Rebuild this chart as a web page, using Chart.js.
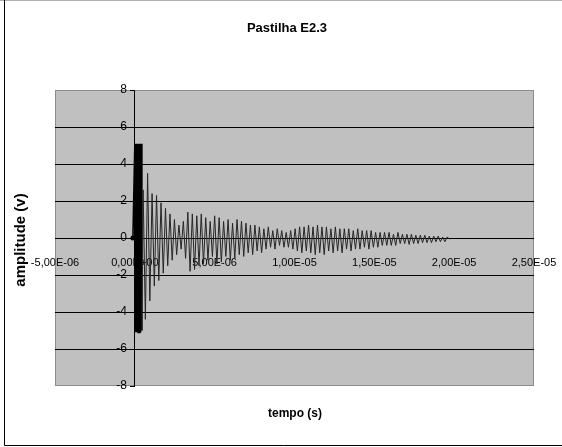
<!DOCTYPE html>
<html>
<head>
<meta charset="utf-8">
<script src="https://cdn.jsdelivr.net/npm/chart.js@4/dist/chart.umd.min.js"></script>
<style>
  html, body { margin: 0; padding: 0; background: #fff; }
  #grafico { display: block; }
</style>
</head>
<body>
<canvas id="grafico" width="562" height="447"></canvas>
<script>
// tempo em microssegundos, amplitude em volts
const tempoUs = [
  -0.12, 0.00, 0.04, 0.08, 0.12, 0.16, 0.20, 0.24, 0.28, 0.32, 0.36, 0.40, 0.44,
  0.52, 0.66, 0.80, 0.94, 1.08, 1.22, 1.36, 1.50, 1.64, 1.78,
  1.92, 2.06, 2.20, 2.34, 2.48, 2.62, 2.76, 2.90, 3.04, 3.18,
  3.32, 3.46, 3.60, 3.74, 3.88, 4.02, 4.16, 4.30, 4.44, 4.58,
  4.72, 4.86, 5.00, 5.14, 5.28, 5.42, 5.56, 5.70, 5.84, 5.98,
  6.12, 6.26, 6.40, 6.54, 6.68, 6.82, 6.96, 7.10, 7.24, 7.38,
  7.52, 7.66, 7.80, 7.94, 8.08, 8.22, 8.36, 8.50, 8.64, 8.78,
  8.92, 9.06, 9.20, 9.34, 9.48, 9.62, 9.76, 9.90, 10.04, 10.18,
  10.32, 10.46, 10.60, 10.74, 10.88, 11.02, 11.16, 11.30, 11.44, 11.58,
  11.72, 11.86, 12.00, 12.14, 12.28, 12.42, 12.56, 12.70, 12.84, 12.98,
  13.12, 13.26, 13.40, 13.54, 13.68, 13.82, 13.96, 14.10, 14.24, 14.38,
  14.52, 14.66, 14.80, 14.94, 15.08, 15.22, 15.36, 15.50, 15.64, 15.78,
  15.92, 16.06, 16.20, 16.34, 16.48, 16.62, 16.76, 16.90, 17.04, 17.18,
  17.32, 17.46, 17.60, 17.74, 17.88, 18.02, 18.16, 18.30, 18.44, 18.58,
  18.72, 18.86, 19.00, 19.14, 19.28, 19.42, 19.56, 19.70
];
const amplitudeV = [
  0, 5.1, -5.1, 5.1, -5.1, 5.1, -5.1, 5.1, -5.1, 5.1, -5.1, 5.1, -5.0,
  2.6, -4.4, 3.5, -3.4, 2.4, -2.6, 2.3, -2.3, 1.9, -1.9,
  1.6, -1.5, 1.3, -1.2, 1.0, -0.9, 0.7, -0.6, 0.9, -1.1,
  1.4, -1.8, 1.3, -1.7, 1.2, -1.5, 1.3, -1.4, 1.1, -1.2,
  0.9, -1.0, 1.2, -1.4, 1.1, -1.3, 0.9, -1.0, 1.0, -1.2,
  0.8, -1.1, 1.0, -0.9, 0.9, -1.0, 0.8, -0.8, 0.7, -0.9,
  0.7, -0.7, 0.6, -0.8, 0.5, -0.6, 0.6, -0.5, 0.4, -0.6,
  0.5, -0.4, 0.4, -0.5, 0.3, -0.5, 0.4, -0.6, 0.5, -0.7,
  0.6, -0.8, 0.6, -0.7, 0.7, -0.8, 0.6, -0.9, 0.7, -0.8,
  0.6, -0.9, 0.6, -0.7, 0.5, -0.8, 0.6, -0.7, 0.5, -0.8,
  0.5, -0.6, 0.5, -0.7, 0.4, -0.6, 0.5, -0.6, 0.4, -0.5,
  0.4, -0.6, 0.4, -0.5, 0.3, -0.5, 0.3, -0.4, 0.3, -0.4,
  0.3, -0.4, 0.2, -0.4, 0.3, -0.3, 0.2, -0.3, 0.2, -0.35,
  0.2, -0.3, 0.15, -0.3, 0.15, -0.25, 0.15, -0.25, 0.1, -0.25,
  0.1, -0.2, 0.1, -0.2, 0.05, -0.2, 0.05, -0.05
];

const xTicks = [-5e-6, 0, 5e-6, 1e-5, 1.5e-5, 2e-5, 2.5e-5];
const xTickLabels = ['-5,00E-06', '0,00E+00', '5,00E-06', '1,00E-05', '1,50E-05', '2,00E-05', '2,50E-05'];
const yTicks = [-8, -6, -4, -2, 0, 2, 4, 6, 8];

const fonteEixo = "'Liberation Sans', Arial, sans-serif";

// fundo cinza da área de plotagem + moldura externa
const fundo = {
  id: 'fundo',
  beforeDraw: (chart) => {
    const { ctx, chartArea: { left, top, width, height } } = chart;
    ctx.save();
    ctx.fillStyle = '#fff';
    ctx.fillRect(0, 0, chart.width, chart.height);
    ctx.fillStyle = '#c0c0c0';
    ctx.fillRect(left, top, width, height);
    ctx.strokeStyle = '#8c8c8c';
    ctx.lineWidth = 1;
    ctx.strokeRect(left + 0.5, top + 0.5, width - 1, height - 1);

    ctx.strokeStyle = '#b0b0b0';
    ctx.beginPath();
    ctx.moveTo(0, 0.5);
    ctx.lineTo(chart.width, 0.5);
    ctx.stroke();
    ctx.strokeStyle = '#000';
    ctx.beginPath();
    ctx.moveTo(4.5, 0);
    ctx.lineTo(4.5, 445.5);
    ctx.lineTo(chart.width, 445.5);
    ctx.stroke();
    ctx.restore();
  }
};

// títulos (gráfico e eixos)
const titulos = {
  id: 'titulos',
  afterDraw: (chart) => {
    const { ctx } = chart;
    ctx.save();
    ctx.fillStyle = '#000';
    ctx.textAlign = 'center';
    ctx.textBaseline = 'middle';
    ctx.font = "bold 13px " + fonteEixo;
    ctx.fillText('Pastilha E2.3', 287, 28);
    ctx.font = "bold 12px " + fonteEixo;
    ctx.fillText('tempo (s)', 295, 414);
    ctx.translate(21, 240);
    ctx.rotate(-Math.PI / 2);
    ctx.font = "bold 15px " + fonteEixo;
    ctx.fillText('amplitude (v)', 0, 0);
    ctx.restore();
  }
};

// sem folga extra para os rótulos que passam da área
const semFolga = (scale) => {
  scale.paddingLeft = 0;
  scale.paddingRight = 0;
  scale.paddingTop = 0;
  scale.paddingBottom = 0;
};

const pontos = tempoUs.map((t, i) => ({ x: t * 1e-6, y: amplitudeV[i] }));

// trecho inicial (saturado) desenhado em preto cheio
const noPulso = (c) => c.p1.parsed.x <= 0.45e-6;

new Chart(document.getElementById('grafico').getContext('2d'), {
  type: 'line',
  data: {
    datasets: [{
      label: 'amplitude',
      data: pontos,
      borderColor: '#262626',
      borderWidth: 1,
      backgroundColor: '#000',
      pointRadius: (c) => (c.dataIndex === 0 ? 2.5 : 0),
      pointBorderWidth: 0,
      tension: 0,
      fill: false,
      segment: {
        borderColor: (c) => (noPulso(c) ? '#000' : undefined),
        borderWidth: (c) => (noPulso(c) ? 1.6 : undefined)
      }
    }]
  },
  options: {
    responsive: false,
    animation: false,
    events: [],
    layout: { padding: { left: 55, right: 28, top: 90, bottom: 61 } },
    plugins: {
      legend: { display: false },
      tooltip: { enabled: false }
    },
    scales: {
      x: {
        type: 'linear',
        position: { y: 0 },
        min: -5e-6,
        max: 2.5e-5,
        afterBuildTicks: (scale) => { scale.ticks = xTicks.map(v => ({ value: v })); },
        afterFit: semFolga,
        ticks: {
          autoSkip: false,
          maxRotation: 0,
          padding: 18,
          color: '#000',
          font: { family: fonteEixo, size: 11 },
          callback: (v, i) => xTickLabels[i]
        },
        grid: { display: false, drawTicks: false },
        border: { display: false }
      },
      y: {
        type: 'linear',
        position: { x: 0 },
        min: -8,
        max: 8,
        afterBuildTicks: (scale) => { scale.ticks = yTicks.map(v => ({ value: v })); },
        afterFit: semFolga,
        ticks: { display: false },
        grid: {
          color: (c) => (c.tick && Math.abs(c.tick.value) === 8 ? 'rgba(0,0,0,0)' : '#000'),
          lineWidth: 1,
          drawTicks: true,
          tickLength: 4,
          tickColor: '#000'
        },
        border: { display: true, color: '#000', width: 1 }
      },
      // rótulos do eixo y, um pouco à esquerda do eixo em x = 0
      yRotulos: {
        type: 'linear',
        axis: 'y',
        position: { x: -5e-7 },
        min: -8,
        max: 8,
        afterBuildTicks: (scale) => { scale.ticks = yTicks.map(v => ({ value: v })); },
        afterFit: semFolga,
        ticks: {
          color: '#000',
          font: { family: fonteEixo, size: 12 },
          callback: (v) => String(v)
        },
        grid: { display: false, drawTicks: false },
        border: { display: false }
      }
    }
  },
  plugins: [fundo, titulos]
});
</script>
</body>
</html>
